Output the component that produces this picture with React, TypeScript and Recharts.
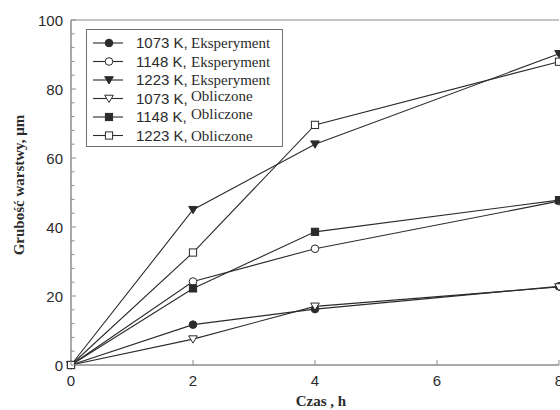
import { LineChart, Line, XAxis, YAxis, Legend, ReferenceLine } from "recharts";

const hours = [0, 2, 4, 8];
const exp1073 = [0, 11.7, 16.2, 22.8];
const exp1148 = [0, 24.2, 33.7, 47.5];
const exp1223 = [0, 45.0, 64.0, 90.2];
const calc1073 = [0, 7.5, 17.0, 22.6];
const calc1148 = [0, 22.2, 38.6, 47.8];
const calc1223 = [0, 32.6, 69.6, 87.9];

const xTicks = [0, 2, 4, 6, 8];
const yTicks = [0, 4, 8, 12, 16, 20, 24, 28, 32, 36, 40, 44, 48, 52, 56, 60, 64, 68, 72, 76, 80, 84, 88, 92, 96, 100];
const yLabelTicks = [0, 20, 40, 60, 80, 100];

const tempLabels = ["1073 K,", "1148 K,", "1223 K,", "1073 K,", "1148 K,", "1223 K,"];
const kindLabels = ["Eksperyment", "Eksperyment", "Eksperyment", "Obliczone", "Obliczone", "Obliczone"];

const SANS = "'Liberation Sans', Arial, sans-serif";
const SERIF = "'Liberation Serif', 'Times New Roman', serif";
const INK = "#2b2b2b";
const AXIS = "#8c8c8c";

type Shape = "circle" | "triangle" | "square";

const series = [
  { key: "e1073", shape: "circle" as Shape, filled: true },
  { key: "e1148", shape: "circle" as Shape, filled: false },
  { key: "e1223", shape: "triangle" as Shape, filled: true },
  { key: "c1073", shape: "triangle" as Shape, filled: false },
  { key: "c1148", shape: "square" as Shape, filled: true },
  { key: "c1223", shape: "square" as Shape, filled: false },
];

const data = hours.map((h, i) => ({
  h,
  e1073: exp1073[i],
  e1148: exp1148[i],
  e1223: exp1223[i],
  c1073: calc1073[i],
  c1148: calc1148[i],
  c1223: calc1223[i],
}));

function Marker({ cx, cy, shape, filled }: { cx: number; cy: number; shape: Shape; filled: boolean }) {
  const fill = filled ? INK : "#fff";
  if (shape === "circle") {
    return <circle cx={cx} cy={cy} r={3.8} fill={fill} stroke={INK} strokeWidth={1} />;
  }
  if (shape === "square") {
    return <rect x={cx - 3.6} y={cy - 3.6} width={7.2} height={7.2} fill={fill} stroke={INK} strokeWidth={1} />;
  }
  return (
    <polygon
      points={`${cx - 4.3},${cy - 3.3} ${cx + 4.3},${cy - 3.3} ${cx},${cy + 4}`}
      fill={fill}
      stroke={INK}
      strokeWidth={1}
    />
  );
}

function YTick(props: any) {
  const { x, y, payload } = props;
  const v = payload.value;
  const major = yLabelTicks.includes(v);
  return (
    <g>
      <line x1={x + 8} x2={x + 8 + (major ? 5 : 3.5)} y1={y} y2={y} stroke={AXIS} strokeWidth={1} />
      {major && (
        <text x={x} y={y + 5.5} textAnchor="end" fontFamily={SANS} fontSize={15} fill={INK}>
          {v}
        </text>
      )}
    </g>
  );
}

function XTick(props: any) {
  const { x, y, payload } = props;
  return (
    <g>
      <line x1={x} x2={x} y1={y} y2={y - 5} stroke={AXIS} strokeWidth={1} />
      <text x={x} y={y + 21} textAnchor="middle" fontFamily={SANS} fontSize={15} fill={INK}>
        {payload.value}
      </text>
    </g>
  );
}

function LegendBox() {
  const rowY = (i: number) => 14 + i * 18.5;
  return (
    <svg width={198} height={119} style={{ display: "block" }}>
      <rect x={0.5} y={0.5} width={196} height={117} fill="#fff" stroke="#707070" strokeWidth={1} />
      {series.map((s, i) => {
        const raised = i === 3 || i === 4;
        return (
          <g key={s.key}>
            <line x1={7} x2={37} y1={rowY(i)} y2={rowY(i)} stroke={INK} strokeWidth={1.1} />
            <Marker cx={23} cy={rowY(i)} shape={s.shape} filled={s.filled} />
            <text x={50} y={rowY(i) + 5} fontFamily={SANS} fontSize={15} fill={INK}>
              {tempLabels[i]}
            </text>
            <text x={105} y={rowY(i) + (raised ? 2 : 5)} fontFamily={SERIF} fontSize={15} fill={INK}>
              {kindLabels[i]}
            </text>
          </g>
        );
      })}
    </svg>
  );
}

export default function App() {
  return (
    <div style={{ position: "absolute", left: 0, top: 0, width: 560, height: 410, background: "#fff" }}>
      <LineChart width={560} height={410} data={data} margin={{ top: 20, right: 1, bottom: 15, left: 0 }}>
        <XAxis
          dataKey="h"
          type="number"
          domain={[0, 8]}
          ticks={xTicks}
          tickSize={0}
          tickMargin={0}
          height={30}
          stroke={AXIS}
          strokeWidth={1.5}
          tick={<XTick />}
          interval={0}
          label={{
            content: () => (
              <text x={321} y={406} textAnchor="middle" fontFamily={SERIF} fontWeight="bold" fontSize={15} fill={INK}>
                Czas , h
              </text>
            ),
          }}
        />
        <YAxis
          type="number"
          domain={[0, 100]}
          ticks={yTicks}
          width={71}
          tickSize={0}
          tickMargin={8}
          stroke={AXIS}
          strokeWidth={1.5}
          tick={<YTick />}
          interval={0}
          label={{
            content: () => (
              <text
                x={24}
                y={185}
                transform="rotate(-90 24 185)"
                textAnchor="middle"
                fontFamily={SERIF}
                fontWeight="bold"
                fontSize={15}
                fill={INK}
              >
                Grubość warstwy, μm
              </text>
            ),
          }}
        />
        <ReferenceLine y={100} stroke={AXIS} strokeWidth={1.2} />
        <Legend
          layout="vertical"
          align="center"
          verticalAlign="middle"
          content={() => <LegendBox />}
          wrapperStyle={{ position: "absolute", left: 86, top: 29, width: 198, height: 119 }}
        />
        {series.map((s) => (
          <Line
            key={s.key}
            dataKey={s.key}
            type="linear"
            stroke={INK}
            strokeWidth={1.1}
            isAnimationActive={false}
            activeDot={false}
            dot={(p: any) => <Marker key={`${s.key}-${p.index}`} cx={p.cx} cy={p.cy} shape={s.shape} filled={s.filled} />}
          />
        ))}
      </LineChart>
    </div>
  );
}
